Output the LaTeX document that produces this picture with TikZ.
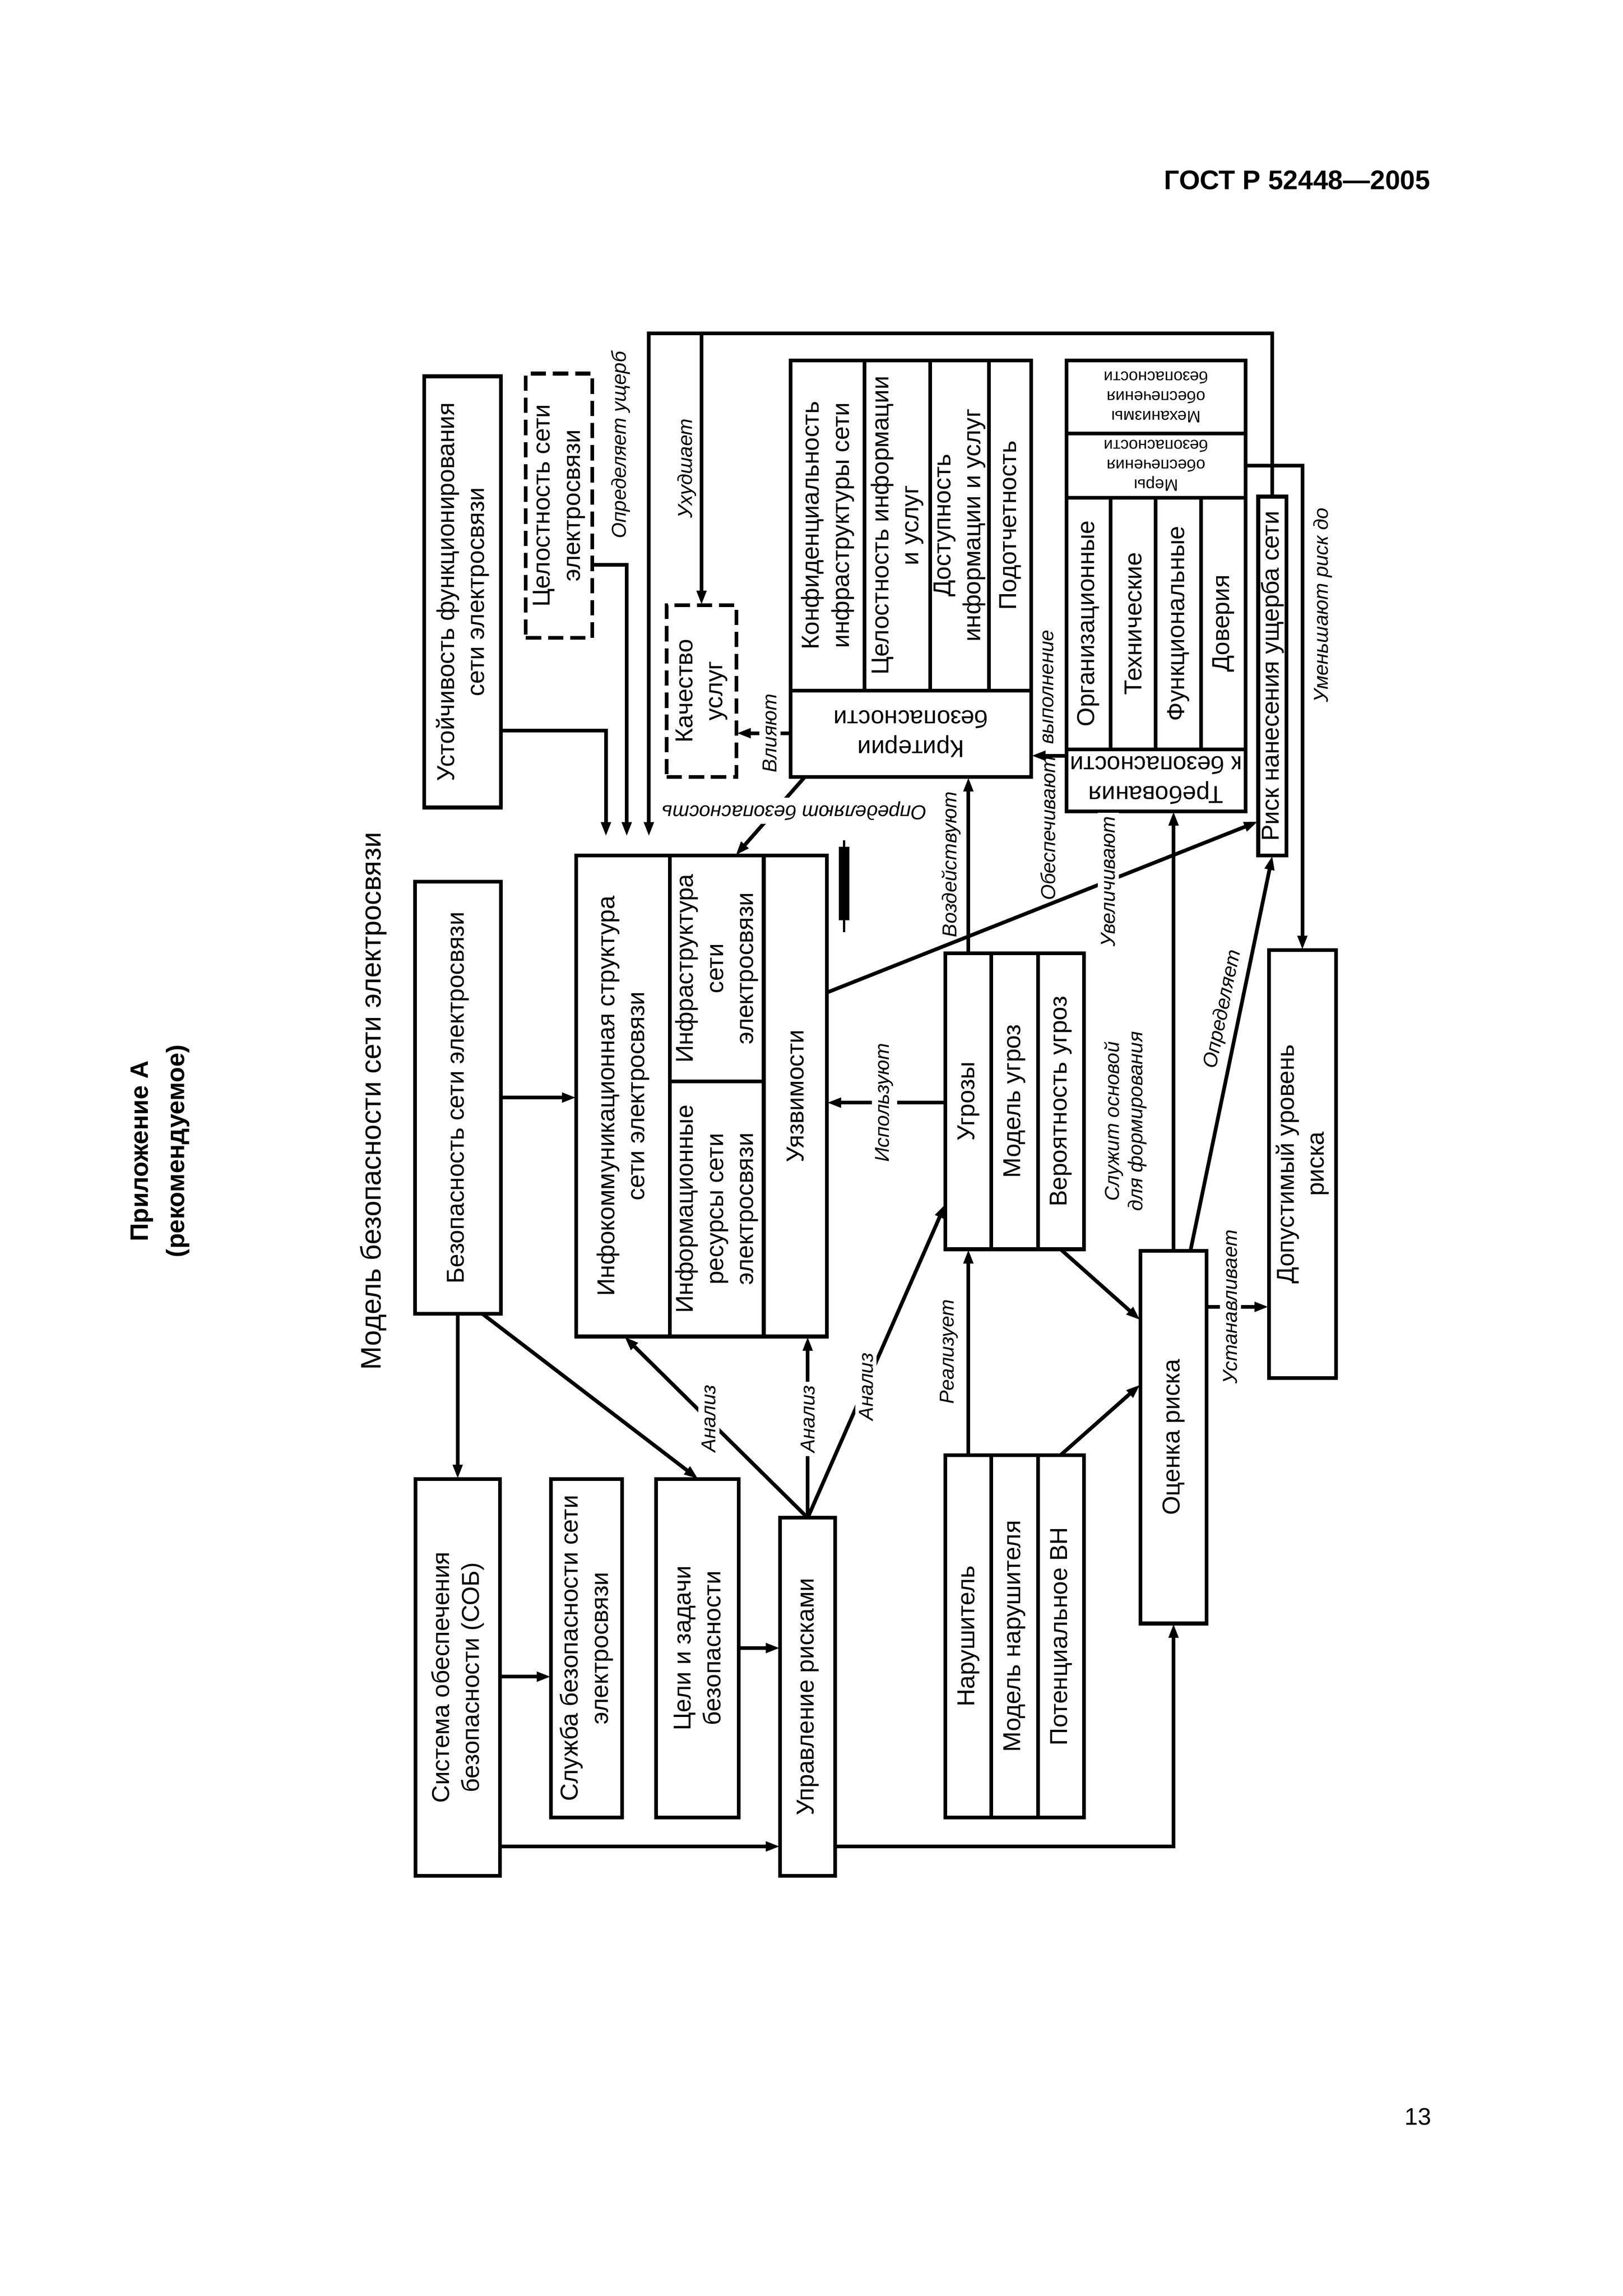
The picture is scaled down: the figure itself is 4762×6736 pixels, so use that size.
\documentclass[tikz,border=0pt]{standalone}
\usepackage{fontspec}
\setmainfont{Liberation Sans}
\usetikzlibrary{arrows.meta}
\newcommand\bfnt{\fontsize{20.4}{25}\selectfont}
\newcommand\sfnt{\fontsize{13.8}{16.5}\selectfont}
\newcommand\lfnt{\fontsize{16.8}{19.5}\selectfont\itshape}
% box: [style]{name}{x1}{x2}{y1}{y2}{rotation}{text}
\newcommand\bx[8][]{%
  \node[box,#1,minimum width={(#4-#3)*0.01cm},minimum height={(#6-#5)*0.01cm}] (#2) at ({(#3+#4)/2},{-(#5+#6)/2}) {};
  \node[txt,#1,rotate=#7] (#2-t) at (#2.center) {#8};}
\begin{document}
\begin{tikzpicture}[x=0.01cm,y=0.01cm,
  box/.style={draw,line width=3.1pt,inner sep=0pt,outer sep=0pt},
  txt/.style={font=\bfnt,inner sep=0pt,align=center,draw=none},
  lab/.style={font=\lfnt,inner sep=3pt,align=center},
  cut/.style={lab,fill=white},
  arr/.style={line width=3.1pt,-{Triangle[length=0.42cm,width=0.27cm]}},
  dsh/.style={dash pattern=on 0.45cm off 0.2cm}]
\useasboundingbox (0,0) rectangle (4762,-6736);

% header, appendix title, page number, title
\node[anchor=base east,font=\bfseries\fontsize{22.5}{26}\selectfont] (gost) at (4209,-556) {ГОСТ Р 52448—2005};
\node[rotate=90,align=center,font=\bfseries\fontsize{21}{30}\selectfont] (app) at (470,-3377) {Приложение А\\(рекомендуемое)};
\node[anchor=base east,font=\fontsize{20}{24}\selectfont] (pg) at (4212,-6234) {13};
\node[rotate=90,font=\fontsize{23.6}{28}\selectfont] (title) at (1095,-3230) {Модель безопасности сети электросвязи};

% boxes
\bx{ustoich}{1245}{1470}{1104}{2369}{90}{Устойчивость функционирования\\сети электросвязи}
\bx[dsh]{celost}{1543}{1738}{1096}{1871}{90}{Целостность сети\\электросвязи}
\bx[dsh]{kach}{1956}{2161}{1775}{2279}{90}{Качество\\услуг}
\bx{k1}{2320}{2537}{1057}{2026}{90}{Конфиденциальность\\инфраструктуры сети}
\bx{k2}{2537}{2729}{1057}{2026}{90}{Целостность информации\\и услуг}
\bx{k3}{2729}{2902}{1057}{2026}{90}{Доступность\\информации и услуг}
\bx{k4}{2902}{3026}{1057}{2026}{90}{Подотчетность}
\bx{kb}{2320}{3026}{2026}{2280}{180}{Критерии\\безопасности}
\bx[font=\sfnt]{mech}{3129}{3655}{1057}{1272}{180}{Механизмы\\обеспечения\\безопасности}
\bx[font=\sfnt]{mery}{3129}{3655}{1272}{1460}{180}{Меры\\обеспечения\\безопасности}
\bx{t1}{3129}{3259}{1460}{2199}{90}{Организационные}
\bx{t2}{3259}{3391}{1460}{2199}{90}{Технические}
\bx{t3}{3391}{3524}{1460}{2199}{90}{Функциональные}
\bx{t4}{3524}{3655}{1460}{2199}{90}{Доверия}
\bx{tb}{3129}{3655}{2199}{2380}{180}{Требования\\к безопасности}
\bx{risk}{3692}{3775}{1457}{2510}{90}{Риск нанесения ущерба сети}
\bx{dop}{3723}{3920}{2787}{4043}{90}{Допустимый уровень\\риска}
\bx{bez}{1218}{1470}{2587}{3854}{90}{Безопасность сети электросвязи}
\bx{i1}{1691}{1966}{2510}{3921}{90}{Инфокоммуникационная структура\\сети электросвязи}
\bx{i2}{1966}{2241}{2510}{3173}{90}{Инфраструктура\\сети\\электросвязи}
\bx{i3}{1966}{2241}{3173}{3921}{90}{Информационные\\ресурсы сети\\электросвязи}
\bx{i4}{2241}{2426}{2510}{3921}{90}{Уязвимости}
\bx{u1}{2774}{2909}{2797}{3665}{90}{Угрозы}
\bx{u2}{2909}{3046}{2797}{3665}{90}{Модель угроз}
\bx{u3}{3046}{3181}{2797}{3665}{90}{Вероятность угроз}
\bx{n1}{2774}{2909}{4269}{5332}{90}{Нарушитель}
\bx{n2}{2909}{3046}{4269}{5332}{90}{Модель нарушителя}
\bx{n3}{3046}{3181}{4269}{5332}{90}{Потенциальное ВН}
\bx{ocen}{3346}{3541}{3670}{4763}{90}{Оценка риска}
\bx{sob}{1219}{1467}{4339}{5503}{90}{Система обеспечения\\безопасности (СОБ)}
\bx{sluzh}{1617}{1825}{4339}{5332}{90}{Служба безопасности сети\\электросвязи}
\bx{cel}{1925}{2168}{4339}{5332}{90}{Цели и задачи\\безопасности}
\bx{upr}{2289}{2451}{4453}{5503}{90}{Управление рисками}

% free ends / bends
\coordinate (in1) at (1778,-2454);
\coordinate (in2) at (1839,-2454);
\coordinate (in3) at (1904,-2454);
\coordinate (frTL) at (1904,-978);

% connectors
\draw[arr] (ustoich.east |- 0,-2143) -| (in1);
\draw[arr] (celost.east |- 0,-1657) -| (in2);
\draw[arr] (risk.north) |- (frTL) -- (in3);
\draw[arr] (kach.north |- frTL) -- (kach.north);
\draw[arr] (kb.west |- 0,-2151) -- (kach.east |- 0,-2151);
\draw[arr] (kb.south -| 2361,0) -- (i2.north -| 2158,0);
\draw[arr] (tb.west |- 0,-2217) -- (kb.east |- 0,-2217);
\draw[arr] (u1.north) -- (u1.north |- kb.south);
\draw[arr] (i4.east |- 0,-2912) -- (risk.west |- 0,-2410);
\draw[arr] (u1.west |- 0,-3235) -- (i4.east |- 0,-3235);
\draw[arr] (mery.east) -| (dop.north);
\draw[arr] (ocen.north) -- (ocen.north |- tb.south);
\draw[arr] (ocen.north -| 3493,0) -- (risk.south);
\draw[arr] (ocen.east |- 0,-3834) -- (dop.west |- 0,-3834);
\draw[arr] (u3.south -| 3112,0) -- (ocen.west |- 0,-3873);
\draw[arr] (n3.north -| 3112,0) -- (ocen.west |- 0,-4062);
\draw[arr] (n1.north) -- (n1.north |- u1.south);
\draw[arr] (bez.east |- 0,-3220) -- (i1.west |- 0,-3220);
\draw[arr] (sob.north |- bez.south) -- (sob.north);
\draw[arr] (bez.south -| 1415,0) -- (cel.north -| 2049,0);
\draw[arr] (sob.east |- 0,-4919) -- (sluzh.west |- 0,-4919);
\draw[arr] (cel.east |- 0,-4835) -- (upr.west |- 0,-4835);
\draw[arr] (sob.east |- 0,-5417) -- (upr.west |- 0,-5417);
\draw[arr] (upr.east |- 0,-5417) -| (ocen.south);
\draw[arr] (upr.north) -- (upr.north |- i4.south);
\draw[arr] (upr.north) -- (i1.south -| 1832,0);
\draw[arr] (upr.north) -- (u1.west |- 0,-3532);

% labels
\node[lab,rotate=90] (l-ushcherb) at (1822,-1305) {Определяет ущерб};
\node[lab,rotate=90] (l-uhud) at (2015,-1374) {Ухудшает};
\node[cut,rotate=90] (l-vliyayut) at (2259,-2151) {Влияют};
\node[cut,rotate=180] (l-opredbez) at (2331,-2379) {Определяют безопасность};
\node[lab,rotate=90,anchor=east] (l-obesp1) at (3075,-2208) {Обеспечивают};
\node[lab,rotate=90,anchor=west] (l-obesp2) at (3075,-2195) {выполнение};
\node[lab,rotate=90] (l-vozd) at (2791,-2536) {Воздействуют};
\node[cut,rotate=90] (l-uvel) at (3252,-2586) {Увеличивают};
\node[cut,rotate=90] (l-ispol) at (2595,-3235) {Используют};
\node[lab,rotate=90] (l-umen) at (3882,-1775) {Уменьшают риск до};
\node[lab,rotate=90] (l-sluzh) at (3303,-3290) {Служит основой\\для формирования};
\node[lab,rotate=78.3] (l-opred) at (3589,-2961) {Определяет};
\node[cut,rotate=90] (l-ustan) at (3610,-3834) {Устанавливает};
\node[lab,rotate=90] (l-real) at (2785,-3966) {Реализует};
\node[cut,rotate=90] (l-an1) at (2370,-4163) {Анализ};
\node[cut,rotate=90] (l-an2) at (2080,-4162) {Анализ};
\node[cut,rotate=90] (l-an3) at (2541,-4068) {Анализ};

% mark
\fill (2461,-2484) rectangle (2492,-2700);
\draw[line width=2pt] (2477,-2466) -- (2477,-2735);
\end{tikzpicture}
\end{document}
